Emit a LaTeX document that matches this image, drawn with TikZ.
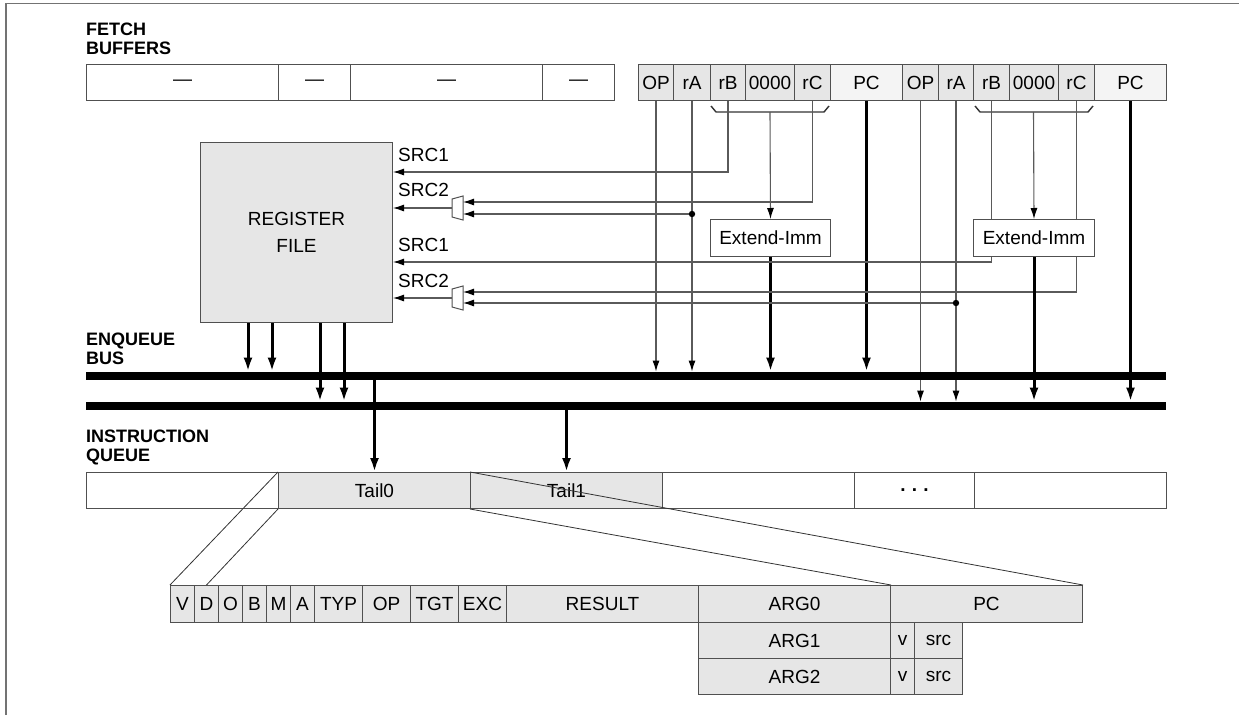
\documentclass[tikz,border=0pt]{standalone}
\usepackage{fontspec}
\setmainfont{Liberation Sans}
\usetikzlibrary{arrows.meta}
\definecolor{gfill}{HTML}{E6E6E6}
\definecolor{pfill}{HTML}{F4F4F4}
\definecolor{bc}{HTML}{505050}
\definecolor{lc}{HTML}{5A5A5A}
\newcommand\fs{\fontsize{19}{22}\selectfont}
\newcommand\lbfont{\fontsize{18}{18.8}\selectfont\bfseries}
\tikzset{
  cell/.style={draw=bc, line width=1pt, inner sep=0pt, anchor=north west, font=\fs},
  lbl/.style={inner sep=0pt, anchor=north west, align=left, font=\lbfont},
  srclbl/.style={inner sep=0pt, anchor=base west, font=\fs},
  conn/.style={draw=lc, line width=1.1pt},
  tarr/.style={conn, -{Latex[length=11pt,width=7pt,color=black]}},
  karr/.style={draw=black, line width=3pt, -{Latex[length=14pt,width=9pt]}},
  bus/.style={fill=black, inner sep=0pt, minimum width=1080pt, minimum height=8.5pt, anchor=west},
  diag/.style={draw=black!80, line width=0.8pt},
  dotc/.style={fill=black}
}
\begin{document}
\begin{tikzpicture}[x=1pt,y=-1pt]
\useasboundingbox (0,0) rectangle (1239,715);
% frame
\draw[draw=black!55, line width=1.2pt] (6,715) -- (6,3.5) -- (1239,3.5);

% labels
\node[lbl] (lfetch) at (86,23) {FETCH\\BUFFERS};
\node[lbl] (lenq) at (86,333) {ENQUEUE\\BUS};
\node[lbl] (liq) at (86,430) {INSTRUCTION\\QUEUE};

% fetch buffers
\foreach \n/\a/\b/\t/\f in {fa/86/278/---/white, fb/278/350/---/white, fc/350/542/---/white, fd/542/614/---/white,
  OPa/638/673/OP/gfill, rAa/673/710/rA/gfill, rBa/710/745/rB/gfill, Za/745/794/0000/gfill, rCa/794/830/rC/gfill, PCa/830/902/PC/pfill,
  OPb/902/938/OP/gfill, rAb/938/973/rA/gfill, rBb/973/1009/rB/gfill, Zb/1009/1058/0000/gfill, rCb/1058/1094/rC/gfill, PCb/1094/1166/PC/pfill}{
  \pgfmathsetmacro\w{\b-\a}
  \node[cell, fill=\f, minimum width=\w pt, minimum height=36pt] (\n) at (\a,64) {\t};
}

% register file
\node[cell, fill=gfill, minimum width=192pt, minimum height=180pt, align=center,
      font=\fontsize{19}{27}\selectfont] (rf) at (200,142) {REGISTER\\FILE};

% SRC labels
\node[srclbl] (s1a) at (398,161.5) {SRC1};
\node[srclbl] (s2a) at (398,196.5) {SRC2};
\node[srclbl] (s1b) at (398,251) {SRC1};
\node[srclbl] (s2b) at (398,287) {SRC2};

% Extend-Imm boxes
\node[cell, fill=white, minimum width=120pt, minimum height=37pt] (ext1) at (710,219) {Extend-Imm};
\node[cell, fill=white, minimum width=121pt, minimum height=37pt] (ext2) at (973,219) {Extend-Imm};

% buses
\node[bus] (bus1) at (86,376) {};
\node[bus] (bus2) at (86,406) {};

% instruction queue
\foreach \n/\a/\b/\t/\f in {q0/86/278//white, t0/278/470/Tail0/gfill, t1/470/662/Tail1/gfill,
  q3/662/854//white, q4/854/974/{\textbf{.\,\,.\,\,.}}/white, q5/974/1166//white}{
  \pgfmathsetmacro\w{\b-\a}
  \node[cell, fill=\f, minimum width=\w pt, minimum height=36pt] (\n) at (\a,472) {\t};
}

% entry record
\foreach \n/\a/\b/\t in {eV/170/194/V, eD/194/218/D, eO/218/242/O, eB/242/266/B, eM/266/290/M, eA/290/314/A,
  eTYP/314/362/TYP, eOP/362/410/OP, eTGT/410/458/TGT, eEXC/458/506/EXC, eRES/506/698/RESULT,
  eARG0/698/890/ARG0, ePC/890/1082/PC}{
  \pgfmathsetmacro\w{\b-\a}
  \node[cell, fill=gfill, minimum width=\w pt, minimum height=37pt] (\n) at (\a,585) {\t};
}
\foreach \n/\a/\b/\t/\y in {eARG1/698/890/ARG1/622, ev1/890/914/v/622, es1/914/962/src/622,
  eARG2/698/890/ARG2/658, ev2/890/914/v/658, es2/914/962/src/658}{
  \pgfmathsetmacro\w{\b-\a}
  \node[cell, fill=gfill, minimum width=\w pt, minimum height=36pt] (\n) at (\a,\y) {\t};
}

% muxes
\coordinate (m1a) at (463,202); \coordinate (m1b) at (463,214); \coordinate (m1o) at (452,208);
\coordinate (m2a) at (463,292); \coordinate (m2b) at (463,303); \coordinate (m2o) at (452,298);
\draw[draw=bc, fill=white, line width=1pt] (452,199) -- (463,196) -- (463,220) -- (452,217) -- cycle;
\draw[draw=bc, fill=white, line width=1pt] (452,289) -- (463,286) -- (463,310) -- (452,307) -- cycle;

% brackets
\draw[draw=black!80, line width=1.4pt] (711,106) -- (716,112) -- (824,112) -- (829,106);
\draw[draw=black!80, line width=1.4pt] (975,106) -- (980,112) -- (1088,112) -- (1093,106);
\coordinate (br1) at (770,112);
\coordinate (br2) at (1033.5,112);
\coordinate (y1) at (0,172);
\coordinate (y3) at (0,262);

% group 1 connectors
\draw[tarr] (rBa.south) |- (rf.east |- y1);
\draw[tarr] (rCa.south) |- (m1a);
\draw[tarr] (rAa.south) -- (bus1.north -| rAa.south);
\draw[tarr] (rAa.south |- m1b) -- (m1b);
\fill[dotc] (rAa.south |- m1b) circle (3.2pt);
\draw[tarr] (m1o) -- (rf.east |- m1o);
\draw[tarr] (OPa.south) -- (bus1.north -| OPa.south);
\draw[tarr] (br1) -- (ext1.north);
\draw[karr] (PCa.south) -- (bus1.north -| PCa.south);
\draw[karr] (ext1.south) -- (bus1.north -| ext1.south);

% group 2 connectors
\draw[conn] (rBb.south) -- (ext2.north -| rBb.south);
\draw[tarr] (ext2.south -| rBb.south) |- (rf.east |- y3);
\draw[conn] (rCb.south) -- (ext2.north -| rCb.south);
\draw[tarr] (ext2.south -| rCb.south) |- (m2a);
\draw[tarr] (rAb.south) -- (bus2.north -| rAb.south);
\draw[tarr] (rAb.south |- m2b) -- (m2b);
\fill[dotc] (rAb.south |- m2b) circle (3.2pt);
\draw[tarr] (m2o) -- (rf.east |- m2o);
\draw[tarr] (OPb.south) -- (bus2.north -| OPb.south);
\draw[tarr] (br2) -- (ext2.north);
\draw[karr] (PCb.south) -- (bus2.north -| PCb.south);
\draw[karr] (ext2.south) -- (bus2.north -| ext2.south);

% register file outputs
\coordinate (r1) at (248,0); \coordinate (r2) at (272,0);
\coordinate (r3) at (320,0); \coordinate (r4) at (344,0);
\draw[karr] (rf.south -| r1) -- (bus1.north -| r1);
\draw[karr] (rf.south -| r2) -- (bus1.north -| r2);
\draw[karr] (rf.south -| r3) -- (bus2.north -| r3);
\draw[karr] (rf.south -| r4) -- (bus2.north -| r4);

% redraw buses on top
\node[bus] at (86,376) {};
\node[bus] at (86,406) {};

% bus to queue
\draw[karr] (bus1.south -| t0.north) -- (t0.north);
\draw[karr] (bus2.south -| t1.north) -- (t1.north);

% expansion lines
\draw[diag] (t0.north west) -- (eV.north west);
\draw[diag] (t0.south west) -- (eD.north);
\draw[diag] (t1.north west) -- (ePC.north east);
\draw[diag] (t1.south west) -- (eARG0.north east);
\end{tikzpicture}
\end{document}
